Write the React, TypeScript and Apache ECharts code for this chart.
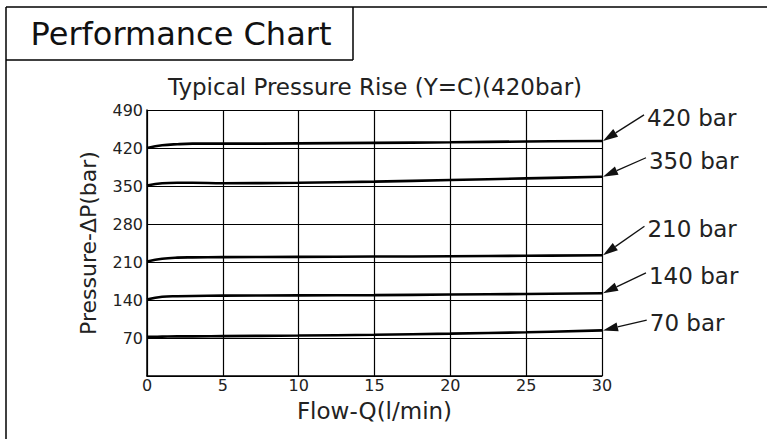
import React, { useEffect, useRef } from "react";
import * as echarts from "echarts";

const flow = [0, 1, 2, 3, 5, 10, 15, 20, 25, 30];
const p70 = [72, 72.5, 73, 73, 73.5, 74.5, 76, 78, 80.5, 84];
const p140 = [141, 146, 147, 147.5, 148, 148.5, 149, 150, 151, 152.5];
const p210 = [211, 216, 218, 218.5, 219, 219.5, 220, 220.5, 221.5, 222.5];
const p350 = [351, 355, 356, 356, 355, 356, 358, 361, 364, 367];
const p420 = [420, 425, 427, 428, 428, 428.5, 429.5, 430.5, 432, 433];

const seriesNames = ["420 bar", "350 bar", "210 bar", "140 bar", "70 bar"];
const seriesValues = [p420, p350, p210, p140, p70];
// label anchor points (data units): where the annotation arrow starts
const labelAnchorX = [32.77, 32.9, 32.8, 32.9, 32.95];
const labelAnchorY = [481, 402, 276, 190, 103];

const yTicks = [0, 70, 140, 210, 280, 350, 420, 490];
const xTicks = [0, 5, 10, 15, 20, 25, 30];

const FONT = "DejaVu Sans";

export default function App() {
  const ref = useRef<HTMLDivElement>(null);
  useEffect(() => {
    if (!ref.current) return;
    const chart = echarts.init(ref.current, null, { renderer: "svg" });
    chart.setOption({
      animation: false,
      backgroundColor: "#fff",
      grid: { left: 147, right: 165, top: 110, bottom: 63 },
      xAxis: {
        type: "value",
        min: xTicks[0],
        max: xTicks[xTicks.length - 1],
        interval: 5,
        name: "Flow-Q(l/min)",
        nameLocation: "middle",
        nameGap: 23,
        nameTextStyle: { color: "#222", fontSize: 23, fontFamily: FONT },
        axisLine: { show: true, lineStyle: { color: "#000", width: 1.5 } },
        axisTick: { show: false },
        axisLabel: { color: "#222", fontSize: 16, fontFamily: FONT, margin: 1 },
        splitLine: { show: true, lineStyle: { color: "#000", width: 1.2 } },
      },
      yAxis: {
        type: "value",
        min: yTicks[0],
        max: yTicks[yTicks.length - 1],
        interval: 70,
        name: "Pressure-\u0394P(bar)",
        nameLocation: "middle",
        nameGap: 48,
        nameTextStyle: { color: "#222", fontSize: 22, fontFamily: FONT },
        axisLine: { show: true, lineStyle: { color: "#000", width: 1.5 } },
        axisTick: { show: false },
        axisLabel: {
          color: "#222",
          fontSize: 16,
          fontFamily: FONT,
          margin: 4,
          formatter: (v: number) => (v === 0 ? "" : String(v)),
        },
        splitLine: { show: true, lineStyle: { color: "#000", width: 1.2 } },
      },
      series: seriesValues.map((vals, i) => ({
        type: "line",
        name: seriesNames[i],
        data: flow.map((f, j) => [f, vals[j]]),
        smooth: 0.4,
        symbol: "none",
        lineStyle: { color: "#000", width: 2.6 },
        z: 5,
      })),
    });

    const graphics: any[] = [
      // outer frame
      { type: "line", shape: { x1: 6, y1: 7, x2: 767, y2: 7 }, style: { stroke: "#000", lineWidth: 1.5 } },
      { type: "line", shape: { x1: 6, y1: 7, x2: 6, y2: 439 }, style: { stroke: "#000", lineWidth: 1.5 } },
      { type: "line", shape: { x1: 6, y1: 60, x2: 353, y2: 60 }, style: { stroke: "#000", lineWidth: 1.5 } },
      { type: "line", shape: { x1: 353, y1: 7, x2: 353, y2: 60 }, style: { stroke: "#000", lineWidth: 1.5 } },
      {
        type: "text",
        x: 181,
        y: 34,
        style: { text: "Performance Chart", fontSize: 32, fontFamily: FONT, fill: "#111", align: "center", verticalAlign: "middle" },
      },
      {
        type: "text",
        x: 375,
        y: 87,
        style: { text: "Typical Pressure Rise (Y=C)(420bar)", fontSize: 23, fontFamily: FONT, fill: "#222", align: "center", verticalAlign: "middle" },
      },
    ];

    seriesValues.forEach((vals, i) => {
      const end = chart.convertToPixel({ gridIndex: 0 }, [flow[flow.length - 1], vals[vals.length - 1]]) as number[];
      const start = chart.convertToPixel({ gridIndex: 0 }, [labelAnchorX[i], labelAnchorY[i]]) as number[];
      const ex = end[0] + 1;
      const ey = end[1];
      const dx = start[0] - ex;
      const dy = start[1] - ey;
      const len = Math.sqrt(dx * dx + dy * dy);
      const ux = dx / len;
      const uy = dy / len;
      const hl = 15;
      const hw = 4.5;
      const bx = ex + ux * hl;
      const by = ey + uy * hl;
      graphics.push({
        type: "line",
        shape: { x1: start[0], y1: start[1], x2: bx, y2: by },
        style: { stroke: "#111", lineWidth: 1.3 },
        z: 10,
      });
      graphics.push({
        type: "polygon",
        shape: {
          points: [
            [ex, ey],
            [bx - uy * hw, by + ux * hw],
            [bx + uy * hw, by - ux * hw],
          ],
        },
        style: { fill: "#111" },
        z: 10,
      });
      graphics.push({
        type: "text",
        x: start[0] + 3,
        y: start[1] + 3,
        style: { text: seriesNames[i], fontSize: 23, fontFamily: FONT, fill: "#222", align: "left", verticalAlign: "middle" },
        z: 10,
      });
    });

    chart.setOption({ graphic: graphics });
    return () => chart.dispose();
  }, []);
  return <div ref={ref} style={{ position: "fixed", left: 0, top: 0, width: 767, height: 439 }} />;
}
